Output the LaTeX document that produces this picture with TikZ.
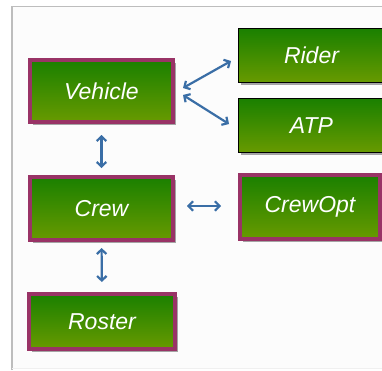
\documentclass[tikz,border=0pt]{standalone}
\usepackage{fontspec}
\setsansfont{Liberation Sans}
\usetikzlibrary{arrows.meta,shadows,calc}
\definecolor{gtop}{HTML}{1A8000}
\definecolor{gbot}{HTML}{689A00}
\definecolor{purp}{HTML}{993366}
\definecolor{arrblue}{HTML}{3A6EA6}
\definecolor{frame}{HTML}{BDBDBD}
\tikzset{
  base/.style={rectangle, outer sep=0pt, inner sep=0pt, top color=gtop, bottom color=gbot,
    text=white, font=\sffamily\itshape\fontsize{23}{27}\selectfont,
    drop shadow={shadow xshift=2.5pt, shadow yshift=-2.5pt, fill=black, opacity=0.35}},
  pbox/.style={base, draw=purp, line width=4pt},
  kbox/.style={base, draw=black, line width=1pt},
  conn/.style={draw=arrblue, line width=2.2pt, {Straight Barb[length=4.5pt,width=9.5pt]}-{Straight Barb[length=4.5pt,width=9.5pt]}}
}
\begin{document}
\begin{tikzpicture}[x=1pt,y=-1pt]
\useasboundingbox (0,0) rectangle (382,370);
\clip (0,0) rectangle (382,370);
\fill[white] (0,0) rectangle (382,370);
\fill[black!1] (12,6.5) rectangle (382,368);
\draw[frame, line width=1.5pt] (12,370) -- (12,6.5) -- (382,6.5);
\draw[black!6, line width=0.8pt] (12,368) -- (382,368);

\node[pbox, minimum width=143, minimum height=62] (vehicle) at (101.5,91) {Vehicle};
\node[pbox, minimum width=143, minimum height=63] (crew) at (101.5,208.5) {Crew};
\node[pbox, minimum width=146, minimum height=55] (roster) at (102,321.5) {Roster};
\node[kbox, minimum width=146, minimum height=54] (rider) at (311.5,55.5) {Rider};
\node[kbox, minimum width=146, minimum height=54] (atp) at (311.5,125.5) {ATP};
\node[pbox, minimum width=140, minimum height=64] (crewopt) at (310,207) {CrewOpt};

\draw[conn, shorten <=13pt, shorten >=9pt] (vehicle.south) -- (crew.north);
\draw[conn, shorten <=8pt, shorten >=12pt] (crew.south) -- (roster.north);
\draw[conn] ([shift={(14,-2.5)}]crew.east) -- ([shift={(-19,-1)}]crewopt.west);
\draw[conn] ([shift={(10,-3)}]vehicle.east) -- ([shift={(-7.5,5.5)}]rider.west);
\draw[conn] ([shift={(10,4)}]vehicle.east) -- ([shift={(-9.5,-1.5)}]atp.west);
\end{tikzpicture}
\end{document}
